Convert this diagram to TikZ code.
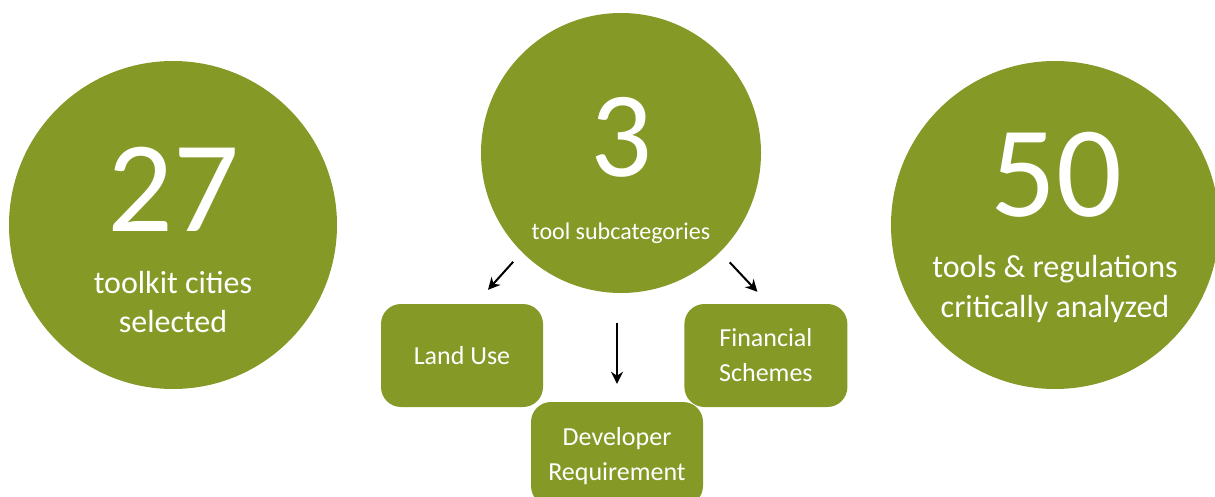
\documentclass[tikz,border=0pt]{standalone}
\usepackage{fontspec}
\setmainfont{Carlito}
\usetikzlibrary{arrows.meta}
\usetikzlibrary{positioning}
\definecolor{olivegreen}{RGB}{132,153,38}

\begin{document}
\begin{tikzpicture}[x=1pt, y=-1pt]
      \tikzset{
        disc/.style={circle, fill=olivegreen, inner sep=0pt},
        tile/.style={rectangle, rounded corners=20pt, fill=olivegreen, text=white,
          align=center, inner sep=0pt, minimum height=103pt,
          font=\fontsize{26}{35}\selectfont},
        bignum/.style={text=white, anchor=base, inner sep=0pt},
        blurb/.style={text=white, anchor=base, inner sep=0pt, align=center},
        arrow/.style={-{Stealth[length=12pt, width=12pt]}, line width=2pt},
      }
      \useasboundingbox (0,0) rectangle (1215,497);

      % the three circles
      \node[disc, minimum size=328pt] (cities) at (173,225) {};
      \node[disc, minimum size=280pt] (subcats) at (621,153) {};
      \node[disc, minimum size=328pt] (tools) at (1055,225) {};

      % base of a two-line text is its last line
      \node[bignum, font=\fontsize{130}{130}\selectfont] (n27) at (173,232) {27};
      \node[blurb, font=\fontsize{32}{39}\selectfont] (citytext) at (173,332) {toolkit cities\\selected};
      \node[bignum, font=\fontsize{122}{122}\selectfont] (n3) at (621,177) {3};
      \node[blurb, font=\fontsize{24}{29}\selectfont] (subtext) at (621,240) {tool subcategories};
      \node[bignum, font=\fontsize{130}{130}\selectfont] (n50) at (1056,217) {50};
      \node[blurb, font=\fontsize{32}{40}\selectfont] (tooltext) at (1055,317) {tools \& regulations\\critically analyzed};

      % subcategory boxes
      \node[tile, minimum width=162pt] (landuse) at (462,355.5) {Land Use};
      \node[tile, minimum width=163pt, right=141pt of landuse] (finance) {Financial\\Schemes};
      \node[tile, minimum width=172pt, minimum height=104pt, text depth=0pt] (dev) at (617,454) {Developer\\Requirement};

      \coordinate (lutip) at ([shift={(26pt,14pt)}]landuse.north);
      \coordinate (fstip) at ([shift={(-8.5pt,12pt)}]finance.north);

      \draw[arrow, shorten <=13pt] (subcats.225) -- (lutip);
      \draw[arrow, shorten <=14pt] (subcats.315) -- (fstip);
      \draw[arrow, shorten <=30pt, shorten >=18pt] (dev.north |- subcats.south) -- (dev.north);
    \end{tikzpicture}
\end{document}
